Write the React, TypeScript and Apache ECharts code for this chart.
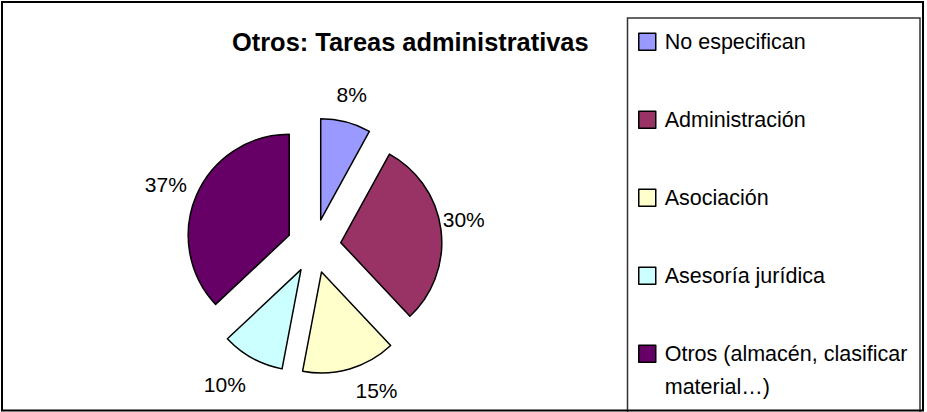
import React, { useEffect, useRef } from 'react';
import * as echarts from 'echarts';

// ---- data ----
const categories: string[] = [
  'No especifican',
  'Administración',
  'Asociación',
  'Asesoría jurídica',
  'Otros (almacén, clasificar\nmaterial…)',
];
const values: number[] = [8, 30, 15, 10, 37];
const colors: string[] = ['#9999FF', '#993366', '#FFFFCC', '#CCFFFF', '#660066'];
const titleText = 'Otros: Tareas administrativas';

// ---- style (label nudges mimicking the original's label placement) ----
const labelNudge: number[][] = [[-1, 0], [-5, -7], [19, -5], [-14, 2], [-5, 0]];
const FONT = "'Liberation Sans Narrow', 'Arial Narrow', 'Liberation Sans', Arial, sans-serif";
const REGULAR = "'Liberation Sans', Arial, sans-serif";

export default function App() {
  const ref = useRef<HTMLDivElement>(null);

  useEffect(() => {
    if (!ref.current) return;
    const chart = echarts.init(ref.current, undefined, { renderer: 'svg' });
    const option: any = {
      animation: false,
      backgroundColor: '#ffffff',
      graphic: [
        {
          type: 'rect',
          z: 0,
          shape: { x: 627.5, y: 18, width: 292.5, height: 430 },
          style: { fill: '#ffffff', stroke: '#333333', lineWidth: 1.5 },
        },
        {
          type: 'text',
          z: 10,
          x: 410.3,
          y: 41.7,
          style: {
            text: titleText,
            align: 'center',
            verticalAlign: 'middle',
            font: `bold 25.4px ${REGULAR}`,
            fill: '#000000',
          },
        },
        {
          type: 'rect',
          z: 100,
          shape: { x: 2, y: 2, width: 921, height: 408.5 },
          style: { fill: 'none', stroke: '#000000', lineWidth: 2 },
        },
      ],
      legend: {
        orient: 'vertical',
        left: 638,
        top: -7.8,
        height: 700,
        padding: 0,
        itemGap: -21,
        itemWidth: 17,
        itemHeight: 17,
        icon: 'rect',
        selectedMode: false,
        itemStyle: { borderColor: '#000000', borderWidth: 1.5 },
        formatter: (name: string) => '\n' + name + (name.includes('\n') ? '' : '\n'),
        textStyle: {
          fontFamily: FONT,
          fontSize: 21.5,
          lineHeight: 33,
          color: '#000000',
          padding: [0, 0, 0, 4],
        },
        data: categories,
      },
      series: [
        {
          type: 'pie',
          center: [314, 246],
          radius: 101,
          startAngle: 90,
          clockwise: true,
          selectedMode: 'multiple',
          selectedOffset: 27,
          avoidLabelOverlap: false,
          itemStyle: { borderColor: '#000000', borderWidth: 1.5 },
          select: { itemStyle: { borderColor: '#000000', borderWidth: 1.5 } },
          emphasis: { disabled: true },
          label: {
            show: true,
            position: 'outside',
            formatter: (p: any) => Math.round(p.percent) + '%',
            fontFamily: FONT,
            fontSize: 21,
            color: '#000000',
            distanceToLabelLine: 0,
          },
          labelLine: { show: false, length: 28, length2: 0 },
          labelLayout: (p: any) => ({
            align: 'center',
            dx: labelNudge[p.dataIndex][0],
            dy: labelNudge[p.dataIndex][1],
          }),
          data: categories.map((name, i) => ({
            name,
            value: values[i],
            selected: true,
            itemStyle: { color: colors[i] },
            select: { itemStyle: { color: colors[i] } },
          })),
        },
      ],
    };
    chart.setOption(option);
    return () => chart.dispose();
  }, []);

  return (
    <div
      ref={ref}
      style={{ position: 'absolute', left: 0, top: 0, width: 927, height: 412 }}
    />
  );
}
